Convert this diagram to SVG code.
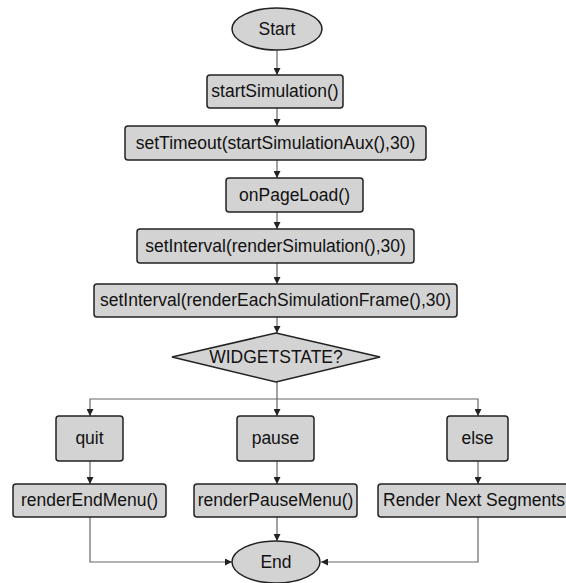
<svg xmlns="http://www.w3.org/2000/svg" width="566" height="583" viewBox="0 0 566 583">
<style>
.n{fill:#d3d3d3;stroke:#222;stroke-width:1.5}
.t{font-family:"Liberation Sans",Arial,sans-serif;font-size:17.5px;fill:#111;text-anchor:middle;dominant-baseline:central}
.c{fill:none;stroke:#666;stroke-width:1.2}
</style>
<defs>
<marker id="a" viewBox="0 0 10 10" refX="10" refY="5" markerWidth="7" markerHeight="7" orient="auto" markerUnits="userSpaceOnUse">
<path d="M0,0 L10,5 L0,10 z" fill="#222"/>
</marker>
</defs>
<rect width="566" height="583" fill="#fff"/>
<g id="connectors">
<path class="c" d="M277,50 V75" marker-end="url(#a)"/>
<path class="c" d="M277,108 V126" marker-end="url(#a)"/>
<path class="c" d="M277,160 V178" marker-end="url(#a)"/>
<path class="c" d="M277,212 V229" marker-end="url(#a)"/>
<path class="c" d="M277,263 V284" marker-end="url(#a)"/>
<path class="c" d="M277,317 V333" marker-end="url(#a)"/>
<path class="c" d="M277,382 V416" marker-end="url(#a)"/>
<path class="c" d="M277,399 H90 V416" marker-end="url(#a)"/>
<path class="c" d="M277,399 H478 V416" marker-end="url(#a)"/>
<path class="c" d="M90,461 V484" marker-end="url(#a)"/>
<path class="c" d="M277,461 V484" marker-end="url(#a)"/>
<path class="c" d="M478,461 V484" marker-end="url(#a)"/>
<path class="c" d="M277,517 V541" marker-end="url(#a)"/>
<path class="c" d="M90,517 V562 H232" marker-end="url(#a)"/>
<path class="c" d="M478,517 V562 H321" marker-end="url(#a)"/>
</g>
<g id="start"><ellipse class="n" cx="277" cy="29" rx="45" ry="21"/><text class="t" x="277" y="29">Start</text></g>
<g id="startSimulation"><rect class="n" x="207" y="75" width="136" height="33" rx="3"/><text class="t" x="275" y="91">startSimulation()</text></g>
<g id="setTimeout"><rect class="n" x="125" y="126" width="301" height="34" rx="3"/><text class="t" x="275.5" y="142.5">setTimeout(startSimulationAux(),30)</text></g>
<g id="onPageLoad"><rect class="n" x="226" y="178" width="137" height="34" rx="3"/><text class="t" x="294.5" y="194.5">onPageLoad()</text></g>
<g id="setIntervalRender"><rect class="n" x="137" y="229" width="277" height="34" rx="3"/><text class="t" x="275.5" y="245.5">setInterval(renderSimulation(),30)</text></g>
<g id="setIntervalFrame"><rect class="n" x="94" y="284" width="363" height="33" rx="3"/><text class="t" x="275.5" y="300">setInterval(renderEachSimulationFrame(),30)</text></g>
<g id="widgetstate"><polygon class="n" points="172,357 276,333 380,357 276,382"/><text class="t" x="276" y="356.5">WIDGETSTATE?</text></g>
<g id="quit"><rect class="n" x="56" y="416" width="67" height="45" rx="3"/><text class="t" x="89.5" y="438">quit</text></g>
<g id="pause"><rect class="n" x="237" y="416" width="77" height="45" rx="3"/><text class="t" x="275.5" y="438">pause</text></g>
<g id="else"><rect class="n" x="447" y="416" width="61" height="45" rx="3"/><text class="t" x="477.5" y="438">else</text></g>
<g id="renderEndMenu"><rect class="n" x="13" y="484" width="153" height="33" rx="3"/><text class="t" x="89.5" y="500">renderEndMenu()</text></g>
<g id="renderPauseMenu"><rect class="n" x="194" y="484" width="163" height="33" rx="3"/><text class="t" x="275.5" y="500">renderPauseMenu()</text></g>
<g id="renderNext"><rect class="n" x="378" y="484" width="200" height="33" rx="3"/><text class="t" x="383" y="500" style="text-anchor:start">Render Next Segments</text></g>
<g id="end"><ellipse class="n" cx="276" cy="562" rx="44" ry="21"/><text class="t" x="276" y="562">End</text></g>
</svg>
